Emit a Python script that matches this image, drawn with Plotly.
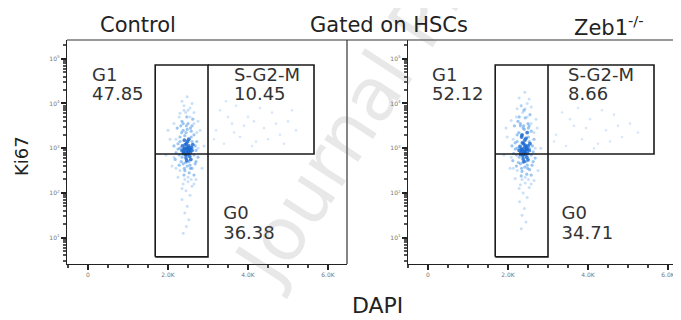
import plotly.graph_objects as go

# ---------------- data ----------------
# (DAPI, log10 Ki67) pairs
ctrl_core = [(2420,3.00),(2480,2.95),(2520,3.05),(2390,2.92),(2550,2.98),(2460,3.10),(2500,2.88),(2440,2.85),
             (2580,3.02),(2360,3.05),(2470,3.00),(2510,2.93),(2430,3.08),(2560,2.90),(2400,2.98),(2490,3.15),
             (2540,2.82),(2450,2.78),(2600,2.95),(2380,2.88),(2520,3.20),(2470,2.72),(2350,2.95),(2620,3.08),
             (2410,3.18),(2570,2.75),(2440,2.92),(2500,3.02),(2530,2.96),(2460,2.86)]
ctrl_mid = [(2300,3.25),(2250,3.10),(2650,3.30),(2700,2.95),(2200,2.90),(2380,3.40),(2560,3.45),(2330,2.70),
            (2680,2.65),(2480,2.60),(2600,2.55),(2420,2.50),(2280,2.62),(2720,3.15),(2150,3.05),(2500,3.55),
            (2350,3.60),(2620,3.65),(2450,3.35),(2530,2.45),(2400,2.40),(2650,2.40),(2230,3.45),(2750,2.80),
            (2180,2.75),(2580,3.38),(2320,3.50),(2470,3.70),
            (2300,3.00),(2600,3.00),(2350,2.80),(2650,2.85),(2300,3.15),(2580,3.25),(2420,3.28),(2520,2.70),
            (2380,2.65),(2550,2.62),(2280,2.85),(2680,3.05),(2440,2.68),(2600,3.15),(2340,3.35),(2480,3.42),
            (2250,2.98),(2700,2.70),(2410,2.55),(2560,2.55),(2460,3.50),(2380,3.55),(2600,3.50)]
ctrl_outer = [(2400,3.85),(2550,3.90),(2300,3.78),(2650,3.80),(2150,3.55),(2800,3.40),(2100,2.60),(2850,2.55),
              (2500,2.25),(2380,2.20),(2600,2.15),(2450,2.05),(2550,1.95),(2350,1.85),(2480,1.70),(2420,1.55),
              (2520,1.40),(2460,1.25),(2380,1.10),(2700,2.30),(2250,2.35),(2050,3.20),(2900,3.05),(2600,4.00),
              (2350,4.05),(2480,4.15),(1950,2.85),(2000,3.40),(2750,3.60),
              (2300,2.50),(2500,2.35),(2420,2.30),(2650,3.55),(2200,3.20),(2720,3.35),(2280,3.70),(2550,3.70),
              (2440,3.80),(2350,2.10),(2580,2.30),(2200,2.55),(2750,3.00),(2150,2.80),(2400,3.95),(2500,3.85),
              (2650,2.20)]
ctrl_sg2m = [(3200,3.40),(3400,3.10),(3600,3.55),(3800,3.25),(4000,3.70),(4200,3.15),(4400,3.45),(4600,3.80),
             (4800,3.30),(5000,3.60),(3300,3.85),(3700,3.95),(4100,3.05),(4500,3.20),(3900,3.50),(4300,3.90),
             (5200,3.40),(3500,3.70),(4700,3.55),(3150,3.20),(4900,3.10),(3650,3.35),(4150,3.60),(5100,3.85),
             (3450,4.05)]

zeb_core = [(2350,2.97),(2410,2.92),(2450,3.03),(2320,2.90),(2480,2.98),(2390,3.10),(2430,2.86),(2370,2.83),
            (2500,3.05),(2300,3.04),(2400,3.00),(2440,2.93),(2360,3.12),(2490,2.88),(2330,2.98),(2420,3.18),
            (2470,2.80),(2380,2.76),(2530,2.95),(2310,2.86),(2450,3.22),(2400,2.70),(2280,2.95),(2550,3.10),
            (2340,3.25),(2500,2.74),(2370,2.92),(2430,3.06),(2460,2.97),(2390,2.87),(2350,3.30),(2480,3.35)]
zeb_mid = [(2230,3.30),(2180,3.12),(2580,3.38),(2630,2.92),(2140,2.88),(2310,3.50),(2500,3.55),(2260,2.68),
           (2600,2.62),(2420,2.58),(2540,2.52),(2350,2.48),(2210,2.60),(2650,3.20),(2100,3.05),(2430,3.68),
           (2280,3.70),(2550,3.75),(2380,3.45),(2470,2.42),(2330,2.38),(2580,2.40),(2160,3.50),(2680,2.78),
           (2120,2.72),(2510,3.45),(2250,3.60),(2400,3.85),
           (2230,3.00),(2530,3.00),(2280,2.80),(2580,2.85),(2230,3.15),(2510,3.25),(2350,3.28),(2450,2.70),
           (2310,2.65),(2480,2.62),(2210,2.85),(2610,3.05),(2370,2.68),(2530,3.15),(2270,3.35),(2410,3.42),
           (2180,2.98),(2630,2.70),(2340,2.55),(2490,2.55),(2390,3.50),(2310,3.55),(2530,3.50)]
zeb_outer = [(2330,3.95),(2480,4.00),(2230,3.88),(2580,3.92),(2080,3.62),(2730,3.45),(2050,2.55),(2750,2.50),
             (2430,2.22),(2310,2.18),(2530,2.12),(2380,2.00),(2480,1.90),(2290,1.80),(2410,1.65),(2350,1.50),
             (2450,1.35),(2330,1.20),(2650,2.28),(2180,2.32),(1980,3.25),(2820,3.00),(2530,4.10),(2280,4.12),
             (2420,4.25),(1900,2.85),(1950,3.45),(2700,3.65),
             (2230,2.50),(2430,2.35),(2350,2.30),(2580,3.55),(2130,3.20),(2650,3.35),(2210,3.70),(2480,3.70),
             (2370,3.80),(2280,2.10),(2510,2.30),(2130,2.55),(2680,3.00),(2080,2.80),(2330,3.95),(2430,3.88),
             (2580,2.20)]
zeb_sg2m = [(3200,3.30),(3450,3.05),(3650,3.50),(3850,3.20),(4050,3.65),(4250,3.10),(4450,3.40),(4650,3.75),
            (4850,3.25),(5050,3.55),(3350,3.80),(3750,3.90),(4150,3.00),(4550,3.15),(3950,3.45),(4350,3.85),
            (5250,3.35),(3550,3.65),(4750,3.50),(3150,3.15)]

gate_x = [1680, 3000, 5650]                 # DAPI gate edges
gate_y_log = [0.57, 2.87, 4.86]             # log10 Ki67 gate edges

gate_names = ["G1", "S-G2-M", "G0"]
ctrl_pct = ["47.85", "10.45", "36.38"]
zeb_pct = ["52.12", "8.66", "34.71"]

x_tick_vals = [0, 2000, 4000, 6000]
x_tick_text = ["0", "2.0K", "4.0K", "6.0K"]
y_decades = [1, 2, 3, 4, 5]

panel_titles = ["Control", "Zeb1<sup>-/-</sup>"]
main_title = "Gated on HSCs"
x_label = "DAPI"
y_label = "Ki67"
watermark = "Journal Pre-proof"

# ---------------- figure ----------------
# The page body keeps an 8 px margin, so the figure is 8 px smaller and
# every reference pixel position is shifted by OFF.
OFF = 8
W, H = 681 - OFF, 320 - OFF
FONT = "DejaVu Sans"
fig = go.Figure()

def px(x):
    return min(1.0, (x - OFF) / W)

def py(y):
    return 1 - (y - OFF) / H

groups = [("outer", "#9cc6f2", 0.55, 3), ("mid", "#4a97e6", 0.55, 3.2),
          ("core", "#1767cf", 0.8, 3.8), ("sg2m", "#bcd6f3", 0.6, 2.6)]

panels = [
    dict(xa="x", ya="y", data=dict(core=ctrl_core, mid=ctrl_mid, outer=ctrl_outer, sg2m=ctrl_sg2m),
         pct=ctrl_pct, labx=[100, 3650, 3380]),
    dict(xa="x2", ya="y2", data=dict(core=zeb_core, mid=zeb_mid, outer=zeb_outer, sg2m=zeb_sg2m),
         pct=zeb_pct, labx=[100, 3500, 3340]),
]

for p in panels:
    for key, col, op, sz in groups:
        pts = p["data"][key]
        fig.add_trace(go.Scatter(
            x=[a for a, b in pts], y=[10 ** b for a, b in pts], mode="markers",
            marker=dict(color=col, size=sz, opacity=op, line=dict(width=0)),
            xaxis=p["xa"], yaxis=p["ya"], showlegend=False, hoverinfo="skip"))
    gy = [10 ** v for v in gate_y_log]
    gate_line = dict(color="#1a1a1a", width=1.6)
    fig.add_trace(go.Scatter(
        x=[gate_x[0], gate_x[1], gate_x[1], gate_x[0], gate_x[0]],
        y=[gy[0], gy[0], gy[2], gy[2], gy[0]], mode="lines",
        line=gate_line, xaxis=p["xa"], yaxis=p["ya"], showlegend=False, hoverinfo="skip"))
    fig.add_trace(go.Scatter(
        x=[gate_x[0], gate_x[1]], y=[gy[1], gy[1]], mode="lines",
        line=gate_line, xaxis=p["xa"], yaxis=p["ya"], showlegend=False, hoverinfo="skip"))
    fig.add_trace(go.Scatter(
        x=[gate_x[1], gate_x[2], gate_x[2], gate_x[1]],
        y=[gy[2], gy[2], gy[1], gy[1]], mode="lines",
        line=gate_line, xaxis=p["xa"], yaxis=p["ya"], showlegend=False, hoverinfo="skip"))
    name_y = [10 ** 4.60, 10 ** 4.60, 10 ** 1.52]
    pct_y = [10 ** 4.17, 10 ** 4.17, 10 ** 1.07]
    fig.add_trace(go.Scatter(
        x=p["labx"] + p["labx"], y=name_y + pct_y, mode="text",
        text=gate_names + p["pct"], textposition="middle right",
        textfont=dict(family=FONT, size=18, color="#333333"),
        xaxis=p["xa"], yaxis=p["ya"], showlegend=False, hoverinfo="skip"))

yminor = [m * 10 ** d for d in [0, 1, 2, 3, 4, 5] for m in range(2, 10)]
xaxis_common = dict(
    tickmode="array", tickvals=x_tick_vals, ticktext=x_tick_text,
    ticks="outside", ticklen=5, tickwidth=1.5, tickcolor="#222",
    tickfont=dict(family=FONT, size=6, color="#777"),
    showline=True, linecolor="#222", linewidth=1.3, showgrid=False, zeroline=False,
    minor=dict(tickmode="linear", tick0=0, dtick=500, ticks="outside", ticklen=3,
               tickcolor="#444", showgrid=False),
    fixedrange=True)
yaxis_common = dict(
    type="log", range=[0.41, 5.42], domain=[py(264), py(40)],
    tickmode="array", tickvals=[10 ** d for d in y_decades],
    ticktext=["10<sup>%d</sup>" % d for d in y_decades],
    ticks="outside", ticklen=5, tickwidth=1.5, tickcolor="#222",
    tickfont=dict(family=FONT, size=6, color="#777"),
    showline=True, linecolor="#222", linewidth=1.3, showgrid=False, zeroline=False,
    minor=dict(tickmode="array", tickvals=yminor, ticks="outside", ticklen=3,
               tickcolor="#555", showgrid=False),
    fixedrange=True)

fig.update_layout(
    width=W, height=H, margin=dict(l=0, r=0, t=0, b=0),
    paper_bgcolor="white", plot_bgcolor="white",
    xaxis=dict(xaxis_common, domain=[px(67), px(347)], range=[-525, 6475], anchor="y"),
    yaxis=dict(yaxis_common, anchor="x"),
    xaxis2=dict(xaxis_common, domain=[px(408), 1.0], range=[-500, 6325], anchor="y2"),
    yaxis2=dict(yaxis_common, anchor="x2"),
    showlegend=False,
)

fig.add_shape(type="line", xref="paper", yref="paper", x0=px(67), x1=1.0, y0=py(40), y1=py(40),
              line=dict(color="#333", width=1.2))
fig.add_shape(type="line", xref="paper", yref="paper", x0=px(347), x1=px(347), y0=py(264), y1=py(40),
              line=dict(color="#333", width=1.2))

# faint diagonal watermark (cut by the picture edges, as in the reference)
fig.add_annotation(text=watermark, x=px(422), y=py(16), xref="paper", yref="paper",
                   xanchor="center", yanchor="middle", textangle=-57, showarrow=False,
                   font=dict(family=FONT, size=74, color="rgba(120,120,120,0.17)"))

ann = [
    dict(text=panel_titles[0], x=px(138), y=py(25), xanchor="center", size=21),
    dict(text=main_title, x=px(389), y=py(25), xanchor="center", size=21),
    dict(text=panel_titles[1], x=px(572), y=py(26), xanchor="left", size=21),
    dict(text=x_label, x=px(377), y=py(305), xanchor="center", size=22),
]
for a in ann:
    fig.add_annotation(text=a["text"], x=a["x"], y=a["y"], xref="paper", yref="paper",
                       xanchor=a["xanchor"], yanchor="middle", showarrow=False,
                       font=dict(family=FONT, size=a["size"], color="#222"))
fig.add_annotation(text=y_label, x=px(21), y=py(156), xref="paper", yref="paper",
                   textangle=-90, showarrow=False, xanchor="center", yanchor="middle",
                   font=dict(family=FONT, size=18, color="#222"))

fig.write_html("out.html")
